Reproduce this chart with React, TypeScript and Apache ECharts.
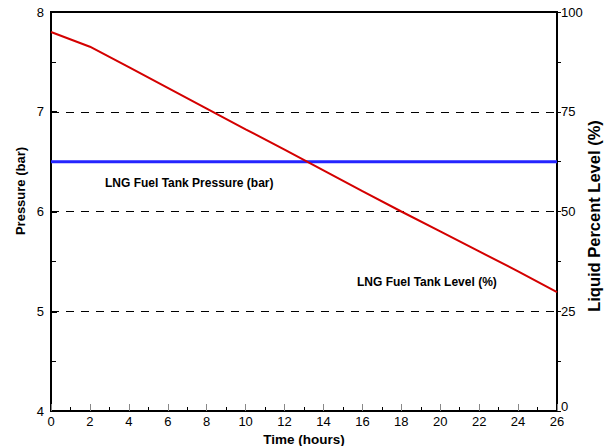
import React, { useEffect, useRef } from "react";
import * as echarts from "echarts";

const hours = [0, 2, 4, 6, 8, 10, 12, 14, 16, 18, 20, 22, 24, 26];
const levelPct = [95, 91.3, 86.2, 81.0, 75.8, 70.6, 65.5, 60.3, 55.1, 50.0, 45.0, 40.0, 35.0, 29.8];
const pressureBar = [6.5, 6.5, 6.5, 6.5, 6.5, 6.5, 6.5, 6.5, 6.5, 6.5, 6.5, 6.5, 6.5, 6.5];
const pressureLabel = "LNG Fuel Tank Pressure (bar)";
const levelLabel = "LNG Fuel Tank Level (%)";
const leftTitle = "Pressure (bar)";
const rightTitle = "Liquid Percent Level (%)";

const FONT = "'Liberation Sans', Arial, sans-serif";

export default function App() {
  const ref = useRef<HTMLDivElement>(null);
  useEffect(() => {
    if (!ref.current) return;
    const chart = echarts.init(ref.current, undefined, { renderer: "svg" });
    chart.setOption({
      animation: false,
      textStyle: { fontFamily: FONT },
      grid: {
        left: 51, right: 51, top: 12, bottom: 35,
        outerBoundsMode: "none", containLabel: false,
        show: true, borderColor: "#000", borderWidth: 2, backgroundColor: "transparent",
      },
      xAxis: {
        type: "value", min: 0, max: 26, interval: 2,
        name: "Time (hours)", nameLocation: "middle", nameGap: 12,
        nameTextStyle: { fontFamily: FONT, fontWeight: "bold", fontSize: 13.5, color: "#000", lineHeight: 14 },
        axisLine: { show: true, onZero: false, lineStyle: { color: "#000", width: 2 } },
        axisTick: { show: true, inside: true, length: 7, lineStyle: { color: "#888", width: 1 } },
        minorTick: { show: true, splitNumber: 2, length: 4, lineStyle: { color: "#000", width: 1 } },
        axisLabel: { fontFamily: FONT, fontSize: 13, color: "#000", margin: 4 },
        splitLine: { show: false },
      },
      yAxis: [
        {
          type: "value", min: 4, max: 8, interval: 1,
          axisLine: { show: true, lineStyle: { color: "#000", width: 2 } },
          axisTick: { show: true, inside: true, length: 6, lineStyle: { color: "#000", width: 2 } },
          minorTick: { show: true, splitNumber: 2, length: 5, lineStyle: { color: "#000", width: 1 } },
          axisLabel: { fontFamily: FONT, fontSize: 13, color: "#000", margin: 7 },
          splitLine: { show: true, lineStyle: { color: "#000", width: 1, type: [8, 7] } },
        },
        {
          type: "value", min: 0, max: 100, interval: 25, position: "right",
          axisLine: { show: true, lineStyle: { color: "#000", width: 2 } },
          axisTick: { show: true, inside: false, length: 4, lineStyle: { color: "#000", width: 1 } },
          minorTick: { show: true, splitNumber: 2, length: 4, lineStyle: { color: "#000", width: 1 } },
          axisLabel: {
            fontFamily: FONT, fontSize: 13, color: "#000", margin: 4,
            formatter: (v: number) => (v === 0 ? "{z|0}" : String(v)),
            rich: { z: { fontFamily: FONT, fontSize: 13, color: "#000", padding: [0, 0, 10, 0] } },
          },
          splitLine: { show: false },
        },
      ],
      graphic: [
        { type: "text", left: 105, top: 177, style: { text: pressureLabel, fontFamily: FONT, fontWeight: "bold", fontSize: 12, fill: "#000" } },
        { type: "text", left: 357, top: 276, style: { text: levelLabel, fontFamily: FONT, fontWeight: "bold", fontSize: 12, fill: "#000" } },
        {
          type: "text", x: 20, y: 191, rotation: Math.PI / 2,
          style: { text: leftTitle, fontFamily: FONT, fontWeight: "bold", fontSize: 13, fill: "#000", align: "center", verticalAlign: "middle" },
        },
        {
          type: "text", x: 594, y: 216, rotation: Math.PI / 2,
          style: { text: rightTitle, fontFamily: FONT, fontWeight: "bold", fontSize: 16.5, fill: "#000", align: "center", verticalAlign: "middle" },
        },
      ],
      series: [
        {
          type: "line", name: pressureLabel, yAxisIndex: 0,
          data: hours.map((h, i) => [h, pressureBar[i]]),
          showSymbol: false, lineStyle: { color: "#2424ff", width: 3 }, z: 3,
        },
        {
          type: "line", name: levelLabel, yAxisIndex: 1,
          data: hours.map((h, i) => [h, levelPct[i]]),
          showSymbol: false, lineStyle: { color: "#d40000", width: 2 }, z: 4,
        },
      ],
    });
    return () => chart.dispose();
  }, []);
  return <div ref={ref} style={{ width: 608, height: 446, position: "absolute", left: 0, top: 0 }} />;
}
